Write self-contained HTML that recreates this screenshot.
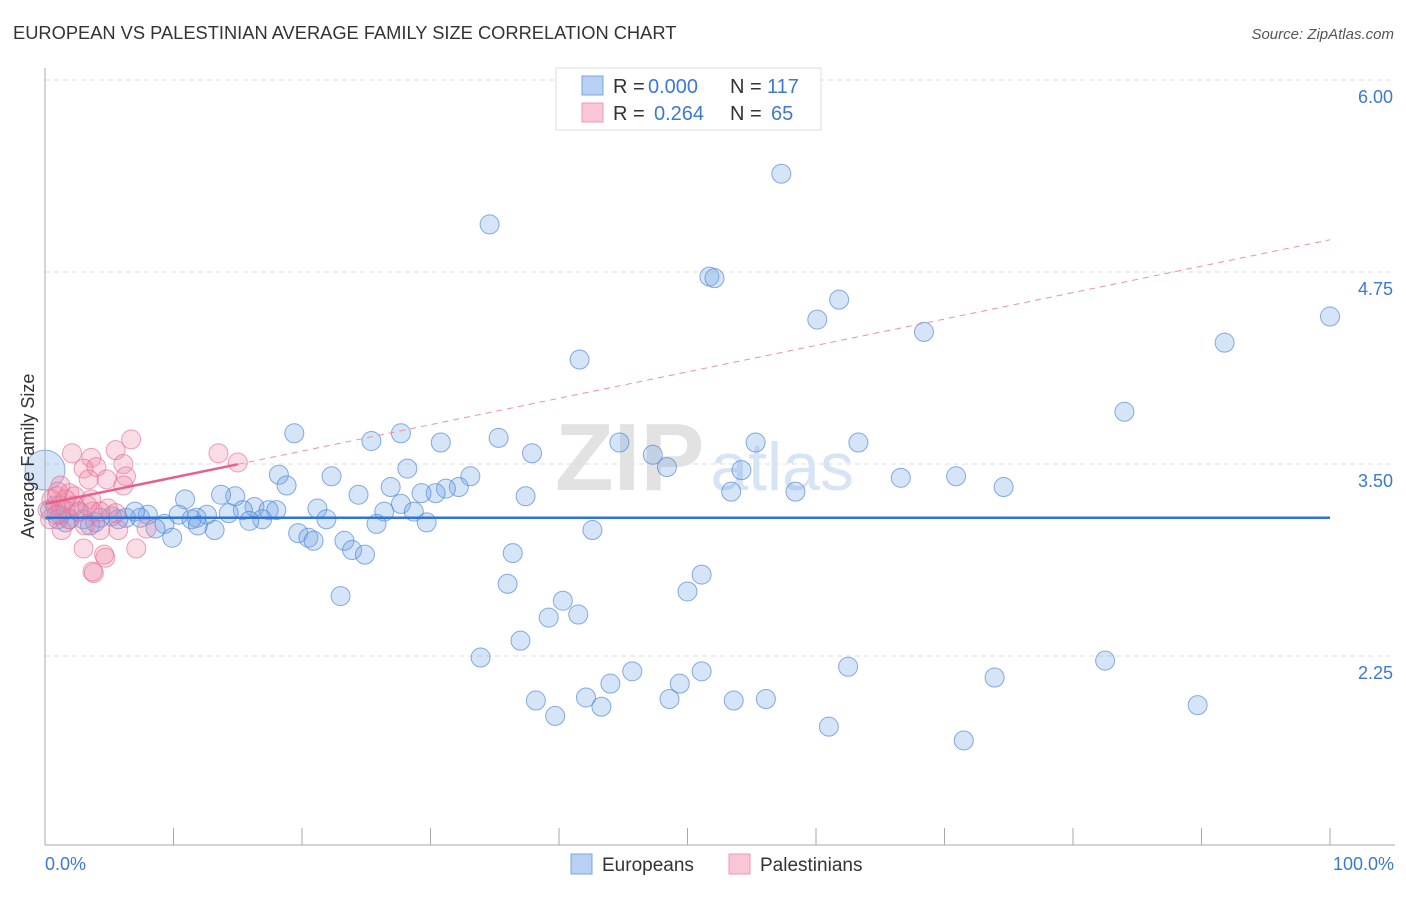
<!DOCTYPE html>
<html><head><meta charset="utf-8"><style>
body{margin:0;background:#fff;font-family:"Liberation Sans",sans-serif}
svg text{font-family:"Liberation Sans",sans-serif}
</style></head><body>
<svg id="c" width="1406" height="892">
<text x="13" y="39" font-size="18.3" fill="#333">EUROPEAN VS PALESTINIAN AVERAGE FAMILY SIZE CORRELATION CHART</text>
<text x="1394" y="39" font-size="15" fill="#555" font-style="italic" text-anchor="end">Source: ZipAtlas.com</text>
<text x="555" y="490" font-size="96" fill="#e2e2e2" font-family="Liberation Serif" font-weight="bold">ZIP<tspan font-family="Liberation Sans" font-weight="normal" fill="#d6e4f5" font-size="68" dx="6">atlas</tspan></text>
<g id="grid"></g><g id="marks"></g><g id="axes"></g>
<text transform="translate(34,456) rotate(-90)" font-size="18" fill="#333" text-anchor="middle">Average Family Size</text>
<text x="45" y="870" font-size="18" fill="#3b78d8">0.0%</text>
<text x="1394" y="870" font-size="18" fill="#3b78d8" text-anchor="end">100.0%</text>
<g>
<rect x="556" y="68" width="265" height="62" fill="#fff" stroke="#ddd"/>
<rect x="582" y="76" width="21" height="19" fill="#b8d0f2" stroke="#7aa6e6"/>
<rect x="582" y="103" width="21" height="19" fill="#f8c6d4" stroke="#eb9ab2"/>
<text x="613" y="93" font-size="20" fill="#333">R = <tspan fill="#3b78d8" x="648">0.000</tspan><tspan x="730">N = </tspan><tspan fill="#3b78d8" x="767">117</tspan></text>
<text x="613" y="120" font-size="20" fill="#333">R = <tspan fill="#3b78d8" x="654">0.264</tspan><tspan x="730">N = </tspan><tspan fill="#3b78d8" x="771">65</tspan></text>
</g>
<g>
<rect x="571" y="854" width="21" height="20" fill="#b8d0f2" stroke="#7aa6e6"/>
<text x="602" y="871" font-size="19" fill="#333">Europeans</text>
<rect x="729" y="854" width="21" height="20" fill="#f8c6d4" stroke="#eb9ab2"/>
<text x="760" y="871" font-size="19" fill="#333">Palestinians</text>
</g>
</svg>
<script>
const yTicks=[6.00,4.75,3.50,2.25];
const yTickLabels=["6.00","4.75","3.50","2.25"];
const xTicks=[0,10,20,30,40,50,60,70,80,90,100];
const euroX=[57.3,34.6,51.7,52.1,61.8,60.1,68.4,100,91.8,41.6,84.0,19.4,27.7,25.4,30.8,35.3,44.7,55.3,63.3,37.9,47.3,48.4,54.2,28.2,18.2,22.3,33.1,66.6,70.9,74.6,18.8,26.9,32.2,31.2,30.4,29.3,53.4,58.4,24.4,37.4,10.9,14.8,13.7,16.3,21.2,27.7,17.4,18.0,26.4,28.7,15.4,14.3,12.6,10.4,11.8,11.4,8.0,7.4,5.2,6.3,3.9,3.0,1.6,21.9,29.7,25.8,16.9,15.9,9.3,8.6,11.9,13.2,9.9,42.6,19.7,20.5,20.9,23.3,23.9,24.9,36.4,51.1,36.0,50.0,23.0,40.3,41.5,39.2,37.0,33.9,82.5,62.5,45.7,51.1,73.9,49.4,44.0,42.1,48.6,38.2,56.1,53.6,43.3,39.7,61.0,89.7,71.5,0.4,1.2,1.9,0.8,2.6,4.3,5.7,7.0,1.0,3.5];
const euroY=[5.39,5.06,4.72,4.71,4.57,4.44,4.36,4.46,4.29,4.18,3.84,3.70,3.70,3.65,3.64,3.67,3.64,3.64,3.64,3.57,3.56,3.48,3.46,3.47,3.43,3.42,3.42,3.41,3.42,3.35,3.36,3.35,3.35,3.34,3.31,3.31,3.32,3.32,3.30,3.29,3.27,3.29,3.30,3.22,3.21,3.24,3.20,3.20,3.19,3.19,3.20,3.18,3.17,3.17,3.15,3.14,3.17,3.15,3.16,3.15,3.12,3.14,3.12,3.14,3.12,3.11,3.14,3.13,3.11,3.08,3.10,3.07,3.02,3.07,3.05,3.02,3.00,3.00,2.94,2.91,2.92,2.78,2.72,2.67,2.64,2.61,2.52,2.50,2.35,2.24,2.22,2.18,2.15,2.15,2.11,2.07,2.07,1.98,1.97,1.96,1.97,1.96,1.92,1.86,1.79,1.93,1.70,3.20,3.17,3.14,3.23,3.19,3.15,3.14,3.19,3.14,3.10];
const palX=[2.1,3.6,5.5,6.7,13.5,15.0,6.1,3.0,4.0,6.3,4.8,1.2,1.9,3.4,0.9,2.3,3.6,6.1,4.9,5.5,0.5,1.2,1.6,2.7,3.7,0.2,1.9,3.1,1.3,4.3,5.7,7.9,3.0,4.7,4.6,7.1,3.8,3.7,0.4,0.9,2.3,1.6,3.3,4.3,1.0];
const palY=[3.57,3.54,3.59,3.66,3.57,3.51,3.50,3.47,3.48,3.42,3.40,3.36,3.31,3.40,3.29,3.29,3.27,3.36,3.21,3.18,3.27,3.23,3.20,3.19,3.19,3.20,3.14,3.10,3.07,3.07,3.07,3.08,2.95,2.89,2.91,2.95,2.79,2.80,3.14,3.17,3.23,3.27,3.23,3.19,3.32];
const euroTrend=[3.15,3.15];
const palTrend=[3.24,4.96];
const palSolidEnd=15;

const X0=45,X1=1330,Y6=80,PPU=153.6;
const xs=v=>X0+(X1-X0)*v/100;
const ys=v=>Y6+(6-v)*PPU;
const NS="http://www.w3.org/2000/svg";
function mk(tag,parent,attrs){const e=document.createElementNS(NS,tag);for(const k in attrs)e.setAttribute(k,attrs[k]);parent.appendChild(e);return e;}
const grid=document.getElementById('grid'),marks=document.getElementById('marks'),axes=document.getElementById('axes');
yTicks.forEach((t,i)=>{
 const l=mk('line',grid,{x1:45,x2:1395,y1:ys(t),y2:ys(t),stroke:'#ddd','stroke-dasharray':'5,4'});
 
 
 const tx=mk('text',grid,{x:1393,y:ys(t)+23,'font-size':18,fill:'#3b78d8','text-anchor':'end'});
 tx.textContent=yTickLabels[i];
 
 
});
let a=mk('line',axes,{x1:45,x2:45,y1:68,y2:845,stroke:'#aaa'});


a=mk('line',axes,{x1:45,x2:1395,y1:845,y2:845,stroke:'#aaa'});


xTicks.forEach(t=>{
 const l=mk('line',axes,{x1:xs(t),x2:xs(t),y1:828,y2:845,stroke:'#aaa'});
 
 
});
euroX.forEach((x,i)=>{
 const c=mk('circle',marks,{cx:xs(x),cy:ys(euroY[i]),r:9.5,fill:'rgba(120,165,230,0.3)',stroke:'rgba(70,130,215,0.65)','stroke-width':1});
 
 
});
let big=mk('circle',marks,{cx:xs(0),cy:ys(3.46),r:20,fill:'rgba(120,165,230,0.3)',stroke:'rgba(70,130,215,0.6)'});


palX.forEach((x,i)=>{
 const c=mk('circle',marks,{cx:xs(x),cy:ys(palY[i]),r:9.5,fill:'rgba(240,140,170,0.3)',stroke:'rgba(230,110,150,0.65)','stroke-width':1});
 
 
});
let t1=mk('line',marks,{x1:xs(0),x2:xs(100),y1:ys(euroTrend[0]),y2:ys(euroTrend[1]),stroke:'#2f72d8','stroke-width':2.5});


const pAt=v=>palTrend[0]+(palTrend[1]-palTrend[0])*v/100;
let t2=mk('line',marks,{x1:xs(0),x2:xs(palSolidEnd),y1:ys(pAt(0)),y2:ys(pAt(palSolidEnd)),stroke:'#e8608a','stroke-width':2.5});


let t3=mk('line',marks,{x1:xs(palSolidEnd),x2:xs(100),y1:ys(pAt(palSolidEnd)),y2:ys(pAt(100)),stroke:'#ec8fab','stroke-width':1,'stroke-dasharray':'6,5'});


</script>
</body></html>
